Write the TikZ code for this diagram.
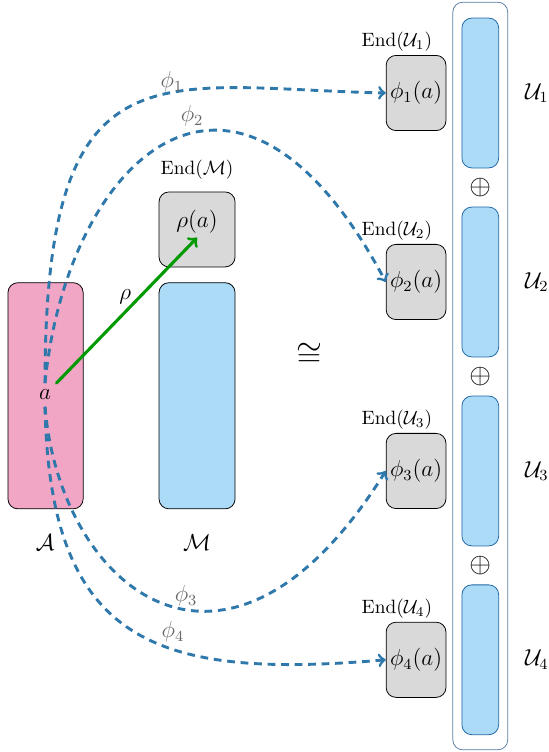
\documentclass[tikz,border=0pt]{standalone}
\usepackage{mathtools}
\usepackage{amssymb}
\usetikzlibrary{arrows}
\definecolor{ffaacc}{rgb}{0.94,0.65,0.77}
\definecolor{aaddff}{rgb}{0.67,0.86,0.97}
\definecolor{dddddd}{rgb}{0.85,0.85,0.85}
\definecolor{zzwwaa}{rgb}{0.18,0.47,0.67}
\definecolor{qqccqq}{rgb}{0.,0.6,0.}
\definecolor{wwwwww}{rgb}{0.4,0.4,0.4}
\definecolor{zzuuaa}{rgb}{0.35,0.5,0.65}
\definecolor{qqwwaa}{rgb}{0.12,0.4,0.65}
\begin{document}
\begin{tikzpicture}[line cap=round,line join=round,>=to,x=1.0cm,y=1.0cm,
endbox/.style={draw,fill=dddddd,rounded corners=0.18cm,minimum width=1.09cm,minimum height=1.37cm,inner sep=0pt,font=\large},
ublock/.style={draw=qqwwaa,fill=aaddff,rounded corners=0.18cm,minimum width=0.67cm,minimum height=2.73cm},
phiarrow/.style={->,color=zzwwaa,line width=1.5pt,line cap=butt,dash pattern=on 4pt off 3pt}]
\useasboundingbox (0,-13.7) rectangle (10,0);
\node[draw,fill=ffaacc,rounded corners=0.18cm,minimum width=1.37cm,minimum height=4.12cm] (algA) at (0.83,-7.21) {};
\node[draw,fill=aaddff,rounded corners=0.18cm,minimum width=1.385cm,minimum height=4.12cm] (modM) at (3.59,-7.21) {};
\node[endbox,minimum width=1.385cm,minimum height=1.366cm,text depth=0.37cm] (rhoa) at (3.59,-4.18) {$\rho(a)$};
\node (endM) at (3.59,-3.10) {End$(\mathcal{M})$};
\node[font=\large] (labA) at (0.82,-9.89) {$\mathcal{A}$};
\node[font=\large] (labM) at (3.59,-9.89) {$\mathcal{M}$};
\node[font=\large] (a) at (0.82,-7.195) {$a$};
\node (cong) at (5.63,-6.47) {\LARGE$\cong$};
% direct sum column
\node[draw=zzuuaa,rounded corners=0.18cm,minimum width=1.0cm,minimum height=13.62cm] (sumU) at (8.75,-6.85) {};
\foreach \i/\y in {1/-1.694,2/-5.137,3/-8.58,4/-12.02} {
\node[ublock] (u\i) at (8.75,\y) {};
\node[font=\large] (lu\i) at (9.78,\y) {$\mathcal{U}_\i$};
\node[endbox] (p\i) at (7.58,\y) {$\phi_\i(a)$};
\node (e\i) at (7.23,\y+0.93) {End$(\mathcal{U}_\i)$};
}
\foreach \i/\y in {1/-3.424,2/-6.867,3/-10.31}
\node (plus\i) at (8.75,\y) {\Large$\oplus$};
% rho
\draw [->,color=qqccqq,line width=1.6pt] (a) -- ([yshift=-0.15cm]rhoa.center);
\node[font=\large] (rholab) at (2.28,-5.41) {$\rho$};
% phi_i
\draw [phiarrow] (a.north) .. controls +(0,6.3) and +(-4.15,0.09) .. (p1.west);
\draw [phiarrow] (a.north) .. controls +(0.4,4.1) and +(-2.73,5.14) .. (p2.west);
\draw [phiarrow] (a.south) .. controls +(0.27,-3.32) and +(-2.90,-4.64) .. (p3.west);
\draw [phiarrow] (a.south) .. controls +(0.09,-4.32) and +(-4.19,-0.36) .. (p4.west);
\node[color=wwwwww,font=\large] (f1) at (3.13,-1.49) {$\phi_1$};
\node[color=wwwwww,font=\large] (f2) at (3.50,-2.11) {$\phi_2$};
\node[color=wwwwww,font=\large] (f3) at (3.39,-10.86) {$\phi_3$};
\node[color=wwwwww,font=\large] (f4) at (3.15,-11.51) {$\phi_4$};
\end{tikzpicture}
\end{document}
